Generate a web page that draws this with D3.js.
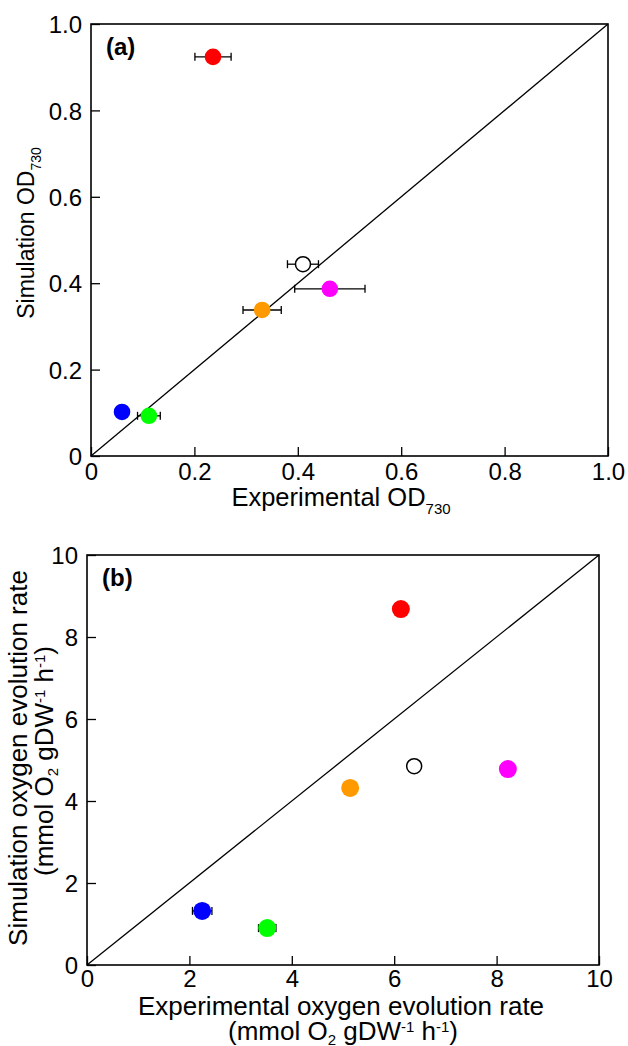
<!DOCTYPE html>
<html>
<head>
<meta charset="utf-8">
<script src="https://cdn.jsdelivr.net/npm/d3@7"></script>
<style>
  body { margin: 0; background: #fff; }
  svg { display: block; font-family: "Liberation Sans", Arial, sans-serif; }
</style>
</head>
<body>
<svg id="chart" width="628" height="1046"></svg>
<script>
// colours of the strains, same order in both panels
var colors = ["#ff0000", "#ffffff", "#ff00ff", "#ff9900", "#0000ff", "#00ff00"];

// panel (a): OD730
var odExp = [0.236, 0.410, 0.462, 0.331, 0.060, 0.112];
var odExpErr = [0.035, 0.030, 0.068, 0.037, 0, 0.022];
var odSim = [0.924, 0.444, 0.387, 0.338, 0.102, 0.093];
var odTicks = [0, 0.2, 0.4, 0.6, 0.8, 1.0];

// panel (b): oxygen evolution rate
var o2Exp = [6.13, 6.39, 8.22, 5.14, 2.25, 3.52];
var o2ExpErr = [0, 0, 0, 0, 0.19, 0.17];
var o2Sim = [8.68, 4.85, 4.78, 4.32, 1.32, 0.90];
var o2Ticks = [0, 2, 4, 6, 8, 10];

var svg = d3.select("#chart");

function panel(opt) {
    var g = svg.append("g");
    var x = d3.scaleLinear().domain(opt.domain).range([opt.left, opt.right]);
    var y = d3.scaleLinear().domain(opt.domain).range([opt.bottom, opt.top]);

    // ticks point inward
    var xAxis = d3.axisBottom(x).tickValues(opt.ticks).tickSize(-9).tickPadding(opt.xPad).tickFormat(opt.fmt);
    var yAxis = d3.axisLeft(y).tickValues(opt.ticks).tickSize(-9).tickPadding(9).tickFormat(opt.fmt);

    var gx = g.append("g")
        .attr("transform", "translate(0," + opt.bottom + ")")
        .call(xAxis);
    var gy = g.append("g")
        .attr("transform", "translate(" + opt.left + ",0)")
        .call(yAxis);
    [gx, gy].forEach(function(a) {
        a.select(".domain").remove();
        a.selectAll("line").attr("stroke", "#000").attr("stroke-width", 1.3);
        a.selectAll("text").attr("fill", "#000").style("font-size", "24px");
    });
    gy.selectAll("text").attr("dy", "0.36em");

    // frame
    g.append("rect")
        .attr("x", opt.left).attr("y", opt.top)
        .attr("width", opt.right - opt.left).attr("height", opt.bottom - opt.top)
        .attr("fill", "none").attr("stroke", "#000").attr("stroke-width", 1.6);

    // 1:1 line
    g.append("line")
        .attr("x1", x(opt.domain[0])).attr("y1", y(opt.domain[0]))
        .attr("x2", x(opt.domain[1])).attr("y2", y(opt.domain[1]))
        .attr("stroke", "#000").attr("stroke-width", 1.3);

    var pts = opt.xs.map(function(v, i) {
        return { x: v, y: opt.ys[i], e: opt.errs[i], c: colors[i] };
    });

    // horizontal error bars
    var eb = g.selectAll(".err").data(pts.filter(function(d) { return d.e > 0; }))
        .enter().append("g").attr("class", "err")
        .attr("stroke", "#000").attr("stroke-width", 1.3);
    eb.append("line")
        .attr("x1", function(d) { return x(d.x - d.e); })
        .attr("x2", function(d) { return x(d.x + d.e); })
        .attr("y1", function(d) { return y(d.y); })
        .attr("y2", function(d) { return y(d.y); });
    [-1, 1].forEach(function(s) {
        eb.append("line")
            .attr("x1", function(d) { return x(d.x + s * d.e); })
            .attr("x2", function(d) { return x(d.x + s * d.e); })
            .attr("y1", function(d) { return y(d.y) - 4; })
            .attr("y2", function(d) { return y(d.y) + 4; });
    });

    g.selectAll(".pt").data(pts).enter().append("circle")
        .attr("class", "pt")
        .attr("cx", function(d) { return x(d.x); })
        .attr("cy", function(d) { return y(d.y); })
        .attr("r", function(d) { return d.c === "#ffffff" ? 7.5 : opt.r; })
        .attr("fill", function(d) { return d.c; })
        .attr("stroke", function(d) { return d.c === "#ffffff" ? "#000" : "none"; })
        .attr("stroke-width", 1.5);

    g.append("text")
        .attr("x", opt.left + 15).attr("y", opt.top + 31)
        .style("font-size", "24px").style("font-weight", "bold")
        .text(opt.tag);
    return g;
}

var ga = panel({
    domain: [0, 1], ticks: odTicks, fmt: function(d) { return d === 0 ? "0" : d3.format(".1f")(d); },
    left: 91, right: 608, top: 24, bottom: 456, xPad: 7, r: 8.3,
    xs: odExp, ys: odSim, errs: odExpErr, tag: "(a)"
});

var gb = panel({
    domain: [0, 10], ticks: o2Ticks, fmt: d3.format("d"),
    left: 87, right: 599, top: 555, bottom: 965, xPad: 5, r: 9,
    xs: o2Exp, ys: o2Sim, errs: o2ExpErr, tag: "(b)"
});

// axis titles (a)
var tA = ga.append("text").attr("x", 341).attr("y", 506).attr("text-anchor", "middle").style("font-size", "25.5px");
tA.append("tspan").text("Experimental OD");
tA.append("tspan").attr("dy", 8).style("font-size", "15px").text("730");

var tAy = ga.append("text").attr("transform", "translate(34,233) rotate(-90)").attr("text-anchor", "middle").style("font-size", "23px");
tAy.append("tspan").text("Simulation OD");
tAy.append("tspan").attr("dy", 7).style("font-size", "14px").text("730");

// unit label: (mmol O2 gDW-1 h-1)
function unit(t) {
    t.append("tspan").text("(mmol O");
    t.append("tspan").attr("dy", 5).style("font-size", "15px").text("2");
    t.append("tspan").attr("dy", -5).text(" gDW");
    t.append("tspan").attr("dy", -8).style("font-size", "15px").text("-1");
    t.append("tspan").attr("dy", 8).text(" h");
    t.append("tspan").attr("dy", -8).style("font-size", "15px").text("-1");
    t.append("tspan").attr("dy", 8).text(")");
}

gb.append("text").attr("x", 341).attr("y", 1015).attr("text-anchor", "middle").style("font-size", "26px")
    .text("Experimental oxygen evolution rate");
unit(gb.append("text").attr("x", 343).attr("y", 1040).attr("text-anchor", "middle").style("font-size", "26px"));

gb.append("text").attr("transform", "translate(27,758) rotate(-90)").attr("text-anchor", "middle").style("font-size", "26px")
    .text("Simulation oxygen evolution rate");
unit(gb.append("text").attr("transform", "translate(53,761) rotate(-90)").attr("text-anchor", "middle").style("font-size", "26px"));
</script>
</body>
</html>
